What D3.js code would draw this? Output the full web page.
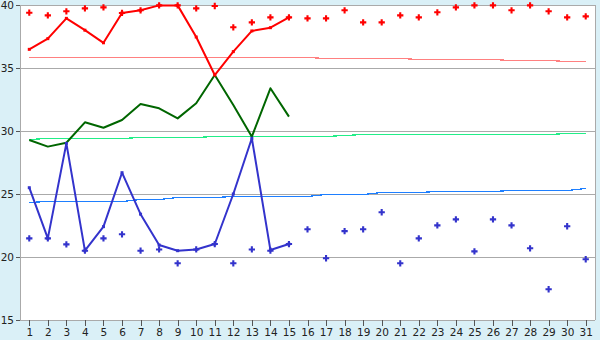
<!DOCTYPE html>
<html>
<head>
<meta charset="utf-8">
<script src="https://cdn.jsdelivr.net/npm/d3@7"></script>
<style>
html,body{margin:0;padding:0;background:#daf0f7;}
svg{display:block;}
text{font-family:"DejaVu Sans",sans-serif;fill:#222;}
</style>
</head>
<body>
<svg id="c" width="600" height="340"></svg>
<script>
const days = d3.range(1, 32);
const yTicks = [15, 20, 25, 30, 35, 40];

const redLine = [36.48, 37.33, 38.94, 38.0, 37.0, 39.37, 39.58, 39.97, 39.97, 37.46, 34.44, 36.3, 37.94, 38.2, 39.02];
const greenLine = [29.29, 28.76, 29.07, 30.69, 30.26, 30.87, 32.14, 31.80, 31.0, 32.2, 34.44, 32.06, 29.55, 33.39, 31.14];
const blueLine = [25.5, 21.48, 29.02, 20.5, 22.41, 26.69, 23.4, 20.95, 20.5, 20.6, 21.03, 25.0, 29.42, 20.56, 21.03];

const redDots = [39.39, 39.18, 39.5, 39.73, 39.81, 39.37, 39.58, 39.97, 39.97, 39.73, 39.92, 38.23, 38.62, 39.02, 39.02,
  38.94, 38.94, 39.58, 38.62, 38.62, 39.18, 39.02, 39.42, 39.81, 39.97, 39.97, 39.58, 39.97, 39.5, 39.02, 39.1];
const blueDots = [21.48, 21.48, 21.0, 20.5, 21.48, 21.8, 20.5, 20.6, 19.5, 20.6, 21.03, 19.5, 20.6, 20.5, 21.03,
  22.2, 19.9, 22.05, 22.2, 23.55, 19.5, 21.48, 22.51, 22.99, 20.45, 22.99, 22.51, 20.69, 17.44, 22.44, 19.82];

const redAvg = [35.9, 35.9, 35.9, 35.9, 35.9, 35.9, 35.9, 35.9, 35.9, 35.9, 35.9, 35.9, 35.9, 35.9, 35.9, 35.9,
  35.82, 35.82, 35.82, 35.82, 35.82, 35.72, 35.69, 35.69, 35.69, 35.69, 35.61, 35.61, 35.61, 35.53, 35.53];
const greenAvg = [29.34, 29.42, 29.42, 29.42, 29.42, 29.42, 29.5, 29.5, 29.5, 29.5, 29.63, 29.63, 29.63, 29.63, 29.63, 29.63,
  29.63, 29.71, 29.76, 29.76, 29.76, 29.76, 29.76, 29.76, 29.76, 29.76, 29.76, 29.76, 29.76, 29.81, 29.81];
const blueAvg = [24.34, 24.47, 24.47, 24.47, 24.47, 24.47, 24.58, 24.58, 24.74, 24.74, 24.74, 24.84, 24.84, 24.84, 24.84, 24.84,
  24.97, 24.97, 24.97, 25.16, 25.16, 25.16, 25.24, 25.24, 25.24, 25.24, 25.32, 25.32, 25.32, 25.32, 25.48];

const W = 600, H = 340;
const m = {l: 20, r: 5, t: 5, b: 20};
const svg = d3.select("#c");

const x = d3.scalePoint().domain(days).range([m.l, W - m.r]).padding(0.5);
const y = d3.scaleLinear().domain([15, 40]).range([H - m.b, m.t]);

// plot background
svg.append("rect").attr("x", m.l).attr("y", m.t).attr("width", W - m.r - m.l).attr("height", H - m.b - m.t).attr("fill", "#fff");

// gridlines
svg.append("g").selectAll("line").data(yTicks.filter(d => d > 15)).join("line")
  .attr("x1", m.l).attr("x2", W - m.r)
  .attr("y1", d => Math.round(y(d)) + 0.5).attr("y2", d => Math.round(y(d)) + 0.5)
  .attr("stroke", "#aaa").attr("stroke-width", 1).attr("shape-rendering", "crispEdges");

// right border
svg.append("line").attr("x1", W - m.r + 0.5).attr("x2", W - m.r + 0.5).attr("y1", m.t).attr("y2", H - m.b)
  .attr("stroke", "#aaa").attr("shape-rendering", "crispEdges");

// axes
const gx = svg.append("g").attr("transform", `translate(0,${H - m.b})`)
  .call(d3.axisBottom(x).tickSize(6).tickPadding(3));
const gy = svg.append("g").attr("transform", `translate(${m.l},0)`)
  .call(d3.axisLeft(y).tickValues(yTicks).tickSize(4).tickPadding(2));
[gx, gy].forEach(g => {
  g.select(".domain").attr("stroke", "#aaa").attr("shape-rendering", "crispEdges");
  g.selectAll(".tick line").attr("stroke", "#555").attr("shape-rendering", "crispEdges");
  g.selectAll("text").attr("fill", "#222").style("font-family", "'DejaVu Sans',sans-serif");
});
gx.select(".domain").attr("d", `M${m.l},0.5H${W - m.r}`);
gx.selectAll("text").style("font-size", "10.5px");
gy.selectAll("text").style("font-size", "10.5px");

// thin average lines
const avgLine = d3.line().x((d, i) => x(days[i])).y(d => Math.round(y(d)) + 0.5);
[[redAvg, "#ff8080"], [greenAvg, "#22ee88"], [blueAvg, "#1e7fff"]].forEach(([data, c]) => {
  svg.append("path").attr("d", avgLine(data)).attr("fill", "none").attr("stroke", c)
    .attr("stroke-width", 1.2).attr("shape-rendering", "crispEdges");
});

// main lines
const line = d3.line().x((d, i) => x(days[i])).y(d => y(d));
[[greenLine, "#006600"], [redLine, "#ff0000"], [blueLine, "#3333cc"]].forEach(([data, c]) => {
  svg.append("path").attr("d", line(data)).attr("fill", "none").attr("stroke", c)
    .attr("stroke-width", 2).attr("stroke-linejoin", "round");
});

// small vertex markers on red and blue lines
const vmark = d3.symbol().type(d3.symbolSquare).size(9);
[[redLine, "#ff0000"], [blueLine, "#3333cc"]].forEach(([data, c]) => {
  svg.append("g").selectAll("path").data(data).join("path")
    .attr("transform", (d, i) => `translate(${x(days[i])},${y(d)})`)
    .attr("d", vmark).attr("fill", c);
});

// dots
const cross = d3.symbol().type(d3.symbolCross).size(22);
[[redDots, "#ff0000"], [blueDots, "#3333cc"]].forEach(([data, c]) => {
  svg.append("g").selectAll("path").data(data).join("path")
    .attr("transform", (d, i) => `translate(${x(days[i])},${y(d)})`)
    .attr("d", cross).attr("fill", c);
});
</script>
</body>
</html>
